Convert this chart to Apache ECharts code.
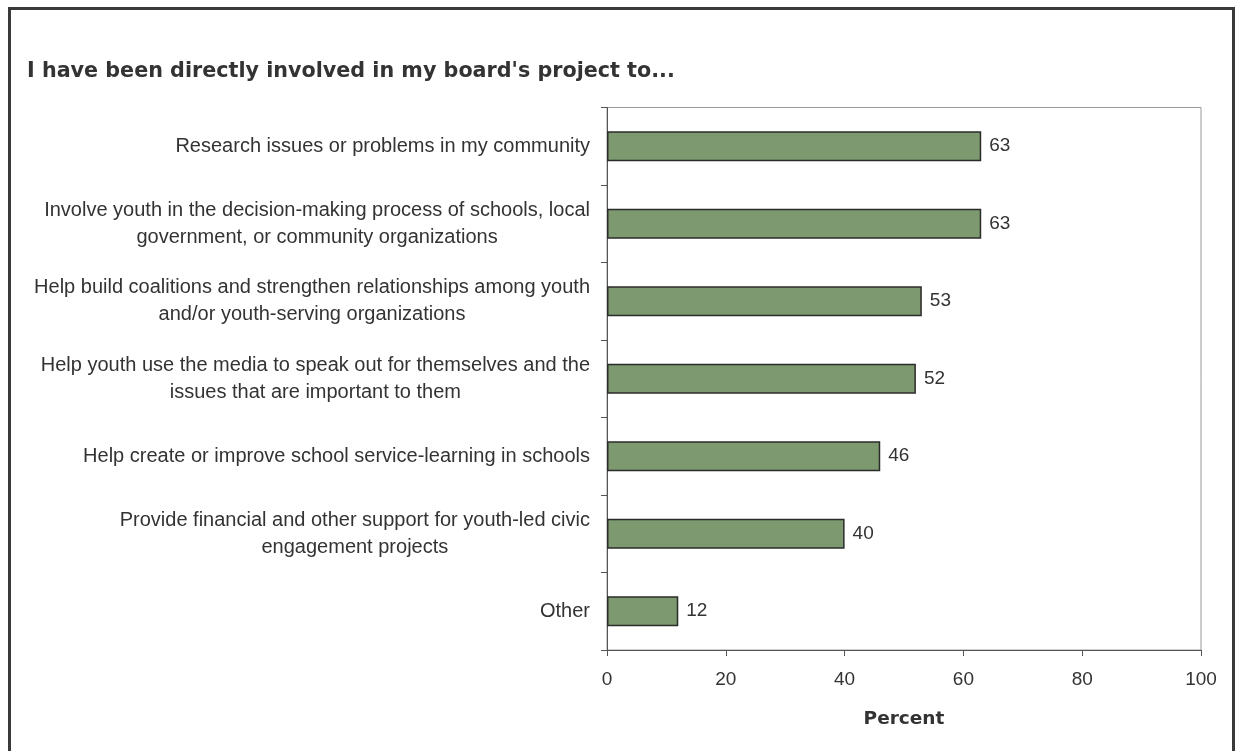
<!DOCTYPE html>
<html>
<head>
<meta charset="utf-8">
<title>Board project involvement</title>
<script src="https://cdn.jsdelivr.net/npm/echarts@6/dist/echarts.min.js"></script>
<style>
  html, body { margin: 0; padding: 0; background: #ffffff; overflow: hidden; }
  #chart { position: absolute; left: 0; top: 0; width: 1235px; height: 751px; }
  #frame { position: absolute; left: 8px; top: 7px; width: 1221px; height: 800px;
           border: 3px solid #3a3a3a; pointer-events: none; }
</style>
</head>
<body>
<div id="chart"></div>
<div id="frame"></div>
<script>
// Survey activities, top to bottom, with the share of respondents (percent)
const categories = [
  "Research issues or problems in my community",
  "Involve youth in the decision-making process of schools, local\ngovernment, or community organizations",
  "Help build coalitions and strengthen relationships among youth\nand/or youth-serving organizations",
  "Help youth use the media to speak out for themselves and the\nissues that are important to them",
  "Help create or improve school service-learning in schools",
  "Provide financial and other support for youth-led civic\nengagement projects",
  "Other"
];
const values = [63, 63, 53, 52, 46, 40, 12];

const xTicks = { min: 0, max: 100, interval: 20 };
const titleText = "I have been directly involved in my board's project to...";
const xAxisName = "Percent";

const regularFont = "'Liberation Sans', Arial, sans-serif";
const boldFont = "'DejaVu Sans', 'Liberation Sans', Arial, sans-serif";
const textColor = '#333333';
const axisColor = '#555555';

const chart = echarts.init(document.getElementById('chart'), null, { renderer: 'canvas' });

chart.setOption({
  animation: false,
  backgroundColor: '#ffffff',
  title: {
    text: titleText,
    left: 27,
    top: 61,
    padding: 0,
    textStyle: { fontFamily: boldFont, fontWeight: 'bold', fontSize: 20.7, color: textColor }
  },
  grid: {
    left: 607,
    right: 34,
    top: 107.5,
    bottom: 101,
    show: true,
    borderColor: '#9a9a9a',
    borderWidth: 1,
    backgroundColor: 'transparent',
    containLabel: false
  },
  xAxis: {
    type: 'value',
    min: xTicks.min,
    max: xTicks.max,
    interval: xTicks.interval,
    name: xAxisName,
    nameLocation: 'middle',
    nameGap: 60,
    nameTextStyle: { fontFamily: boldFont, fontWeight: 'bold', fontSize: 18.5, color: textColor },
    axisLine: { show: true, lineStyle: { color: axisColor, width: 1 } },
    axisTick: { show: true, inside: false, length: 6, lineStyle: { color: axisColor, width: 1 } },
    splitLine: { show: false },
    axisLabel: { margin: 20, fontFamily: regularFont, fontSize: 19, color: textColor }
  },
  yAxis: {
    type: 'category',
    data: categories,
    inverse: true,
    boundaryGap: true,
    axisLine: { show: true, lineStyle: { color: axisColor, width: 1 } },
    axisTick: { show: true, inside: false, length: 6, interval: 0, lineStyle: { color: axisColor, width: 1 } },
    splitLine: { show: false },
    axisLabel: {
      interval: 0,
      margin: 17,
      formatter: function (v) {
        return v.split('\n').map(function (line) { return '{c|' + line + '}'; }).join('\n');
      },
      rich: {
        c: { align: 'center', fontFamily: regularFont, fontSize: 20, lineHeight: 27, color: textColor }
      }
    }
  },
  series: [{
    type: 'bar',
    data: values,
    barWidth: 30,
    itemStyle: { color: '#7c996f', borderColor: '#2b2b2b', borderWidth: 1.5 },
    label: {
      show: true,
      position: 'right',
      distance: 8,
      fontFamily: regularFont,
      fontSize: 19,
      color: textColor
    },
    emphasis: { disabled: true }
  }]
});
</script>
</body>
</html>
